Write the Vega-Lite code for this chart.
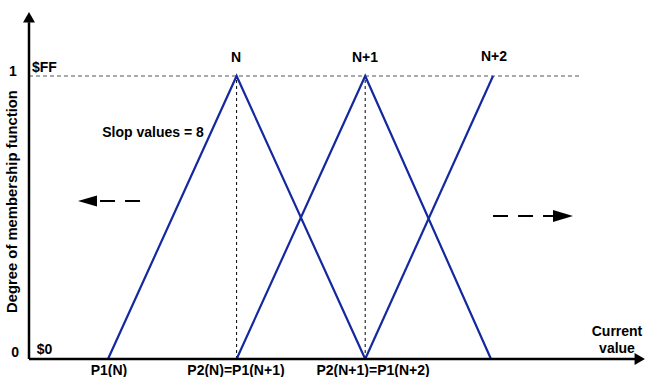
{
  "$schema": "https://vega.github.io/schema/vega-lite/v6.json",
  "width": 645,
  "height": 377,
  "autosize": {"type": "none"},
  "padding": 0,
  "background": "white",
  "config": {"view": {"stroke": null}},
  "datasets": {
    "curves": [
      {"fn": "N", "x": 1, "y": 0},
      {"fn": "N", "x": 2, "y": 1},
      {"fn": "N", "x": 3, "y": 0},
      {"fn": "N+1", "x": 2, "y": 0},
      {"fn": "N+1", "x": 3, "y": 1},
      {"fn": "N+1", "x": 3.978, "y": 0},
      {"fn": "N+2", "x": 3, "y": 0},
      {"fn": "N+2", "x": 3.994, "y": 1}
    ],
    "hguide": [{"x": 0.3857, "x2": 4.67, "y": 1}],
    "vguide": [{"x": 2, "y": 0, "y2": 1}, {"x": 3, "y": 0, "y2": 1}],
    "yaxis": [{"x": 0.3857, "y": 0, "y2": 1.19}],
    "xaxis": [{"x": 0.3857, "x2": 5.1, "y": 0}],
    "uparrow": [{"x": 0.3857, "y": 1.2078}],
    "rightarrow": [{"x": 5.135, "y": 0}],
    "leftdash": [{"x": 0.938, "x2": 1.264, "y": 0.558}],
    "lefthead": [{"x": 0.8406, "y": 0.558}],
    "rightdash": [{"x": 3.994, "x2": 4.46, "y": 0.505}],
    "righthead": [{"x": 4.538, "y": 0.505}],
    "labels": [
      {"label": "N", "x": 1.995, "y": 1.0636},
      {"label": "N+1", "x": 2.998, "y": 1.0636},
      {"label": "N+2", "x": 4.0016, "y": 1.067},
      {"label": "$FF", "x": 0.506, "y": 1.028},
      {"label": "1", "x": 0.261, "y": 1.014},
      {"label": "0", "x": 0.277, "y": 0.0212},
      {"label": "$0", "x": 0.506, "y": 0.0318},
      {"label": "Slop values = 8", "x": 1.35, "y": 0.7986},
      {"label": "Current", "x": 4.958, "y": 0.0954},
      {"label": "value", "x": 4.958, "y": 0.0353},
      {"label": "P1(N)", "x": 1.0078, "y": -0.042},
      {"label": "P2(N)=P1(N+1)", "x": 1.995, "y": -0.042},
      {"label": "P2(N+1)=P1(N+2)", "x": 3.061, "y": -0.042}
    ],
    "title": [{"label": "Degree of membership function", "x": 0.2636, "y": 0.5565}]
  },
  "layer": [
    {
      "data": {"name": "hguide"},
      "mark": {"type": "rule", "color": "#555555", "strokeWidth": 1, "strokeDash": [4, 3]},
      "encoding": {
        "x": {"field": "x", "type": "quantitative", "scale": {"domain": [0.1602, 5.1757], "nice": false, "zero": false}, "axis": null},
        "x2": {"field": "x2"},
        "y": {"field": "y", "type": "quantitative", "scale": {"domain": [-0.0636, 1.2686], "nice": false, "zero": false}, "axis": null}
      }
    },
    {
      "data": {"name": "vguide"},
      "mark": {"type": "rule", "color": "#000000", "strokeWidth": 1, "strokeDash": [3, 3]},
      "encoding": {
        "x": {"field": "x", "type": "quantitative"},
        "y": {"field": "y", "type": "quantitative"},
        "y2": {"field": "y2"}
      }
    },
    {
      "data": {"name": "curves"},
      "mark": {"type": "line", "color": "#1428a0", "strokeWidth": 2.2},
      "encoding": {
        "x": {"field": "x", "type": "quantitative"},
        "y": {"field": "y", "type": "quantitative"},
        "detail": {"field": "fn"}
      }
    },
    {
      "data": {"name": "yaxis"},
      "mark": {"type": "rule", "color": "#000000", "strokeWidth": 2.5},
      "encoding": {
        "x": {"field": "x", "type": "quantitative"},
        "y": {"field": "y", "type": "quantitative"},
        "y2": {"field": "y2"}
      }
    },
    {
      "data": {"name": "xaxis"},
      "mark": {"type": "rule", "color": "#000000", "strokeWidth": 2.5},
      "encoding": {
        "x": {"field": "x", "type": "quantitative"},
        "x2": {"field": "x2"},
        "y": {"field": "y", "type": "quantitative"}
      }
    },
    {
      "data": {"name": "uparrow"},
      "mark": {"type": "point", "shape": "triangle-up", "size": 144, "filled": true, "color": "#000000", "opacity": 1},
      "encoding": {
        "x": {"field": "x", "type": "quantitative"},
        "y": {"field": "y", "type": "quantitative"}
      }
    },
    {
      "data": {"name": "rightarrow"},
      "mark": {"type": "point", "shape": "triangle-right", "size": 144, "filled": true, "color": "#000000", "opacity": 1},
      "encoding": {
        "x": {"field": "x", "type": "quantitative"},
        "y": {"field": "y", "type": "quantitative"}
      }
    },
    {
      "data": {"name": "leftdash"},
      "mark": {"type": "rule", "color": "#000000", "strokeWidth": 2, "strokeDash": [15, 10]},
      "encoding": {
        "x": {"field": "x", "type": "quantitative"},
        "x2": {"field": "x2"},
        "y": {"field": "y", "type": "quantitative"}
      }
    },
    {
      "data": {"name": "lefthead"},
      "mark": {"type": "point", "shape": "M-1,0L1,-0.58L1,0.58Z", "size": 361, "filled": true, "color": "#000000", "opacity": 1},
      "encoding": {
        "x": {"field": "x", "type": "quantitative"},
        "y": {"field": "y", "type": "quantitative"}
      }
    },
    {
      "data": {"name": "rightdash"},
      "mark": {"type": "rule", "color": "#000000", "strokeWidth": 2, "strokeDash": [15, 10]},
      "encoding": {
        "x": {"field": "x", "type": "quantitative"},
        "x2": {"field": "x2"},
        "y": {"field": "y", "type": "quantitative"}
      }
    },
    {
      "data": {"name": "righthead"},
      "mark": {"type": "point", "shape": "M1,0L-1,-0.6L-1,0.6Z", "size": 400, "filled": true, "color": "#000000", "opacity": 1},
      "encoding": {
        "x": {"field": "x", "type": "quantitative"},
        "y": {"field": "y", "type": "quantitative"}
      }
    },
    {
      "data": {"name": "labels"},
      "mark": {"type": "text", "font": "Liberation Sans", "fontWeight": "bold", "fontSize": 14, "color": "#000000", "align": "center", "baseline": "middle"},
      "encoding": {
        "x": {"field": "x", "type": "quantitative"},
        "y": {"field": "y", "type": "quantitative"},
        "text": {"field": "label"}
      }
    },
    {
      "data": {"name": "title"},
      "mark": {"type": "text", "font": "Liberation Sans", "fontWeight": "bold", "fontSize": 14.8, "color": "#000000", "align": "center", "baseline": "middle", "angle": 270},
      "encoding": {
        "x": {"field": "x", "type": "quantitative"},
        "y": {"field": "y", "type": "quantitative"},
        "text": {"field": "label"}
      }
    }
  ]
}
